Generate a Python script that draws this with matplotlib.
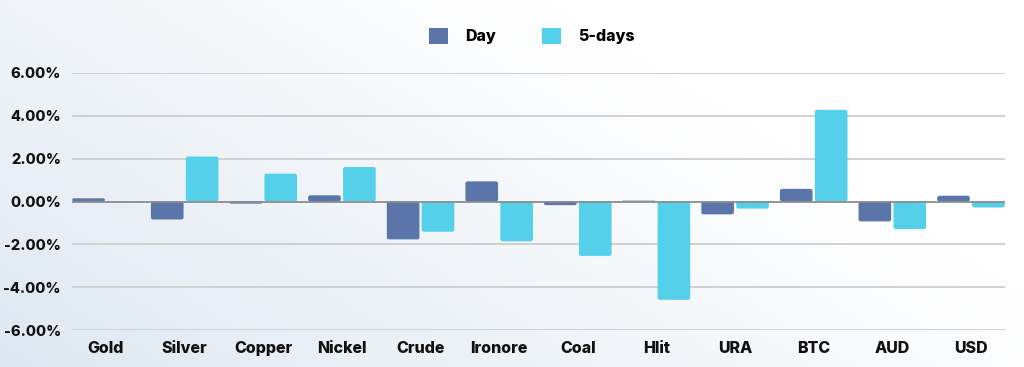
import matplotlib
matplotlib.use("Agg")
import matplotlib.pyplot as plt
import numpy as np
from matplotlib.patches import FancyBboxPatch, Patch

categories = ["Gold", "Silver", "Copper", "Nickel", "Crude", "Ironore",
              "Coal", "Hlit", "URA", "BTC", "AUD", "USD"]
day = [0.15, -0.84, -0.10, 0.29, -1.77, 0.94, -0.17, 0.04, -0.60, 0.59, -0.93, 0.27]
five_days = [0.0, 2.10, 1.30, 1.61, -1.41, -1.86, -2.54, -4.59, -0.33, 4.28, -1.29, -0.28]
yticks = [-6, -4, -2, 0, 2, 4, 6]
series_names = ["Day", "5-days"]

c_day = "#5A75AA"
c_5d = "#55D0EA"

plt.rcParams['font.family'] = ['Inter', 'DejaVu Sans']

fig = plt.figure(figsize=(10.24, 3.67), dpi=100)

# background gradient
bg = fig.add_axes([0, 0, 1, 1], zorder=-10)
xx, yy = np.meshgrid(np.linspace(0, 1, 256), np.linspace(0, 1, 128))
t = np.clip(0.6 * xx + 0.35 * yy, 0, 1)
t = np.clip(t * 1.5, 0, 1)
c0 = np.array([0.875, 0.91, 0.945])
c1 = np.array([1.0, 1.0, 1.0])
img = c0[None, None, :] * (1 - t[..., None]) + c1[None, None, :] * t[..., None]
bg.imshow(img, origin='lower', aspect='auto', extent=[0, 1, 0, 1])
bg.axis('off')

ax = fig.add_axes([72 / 1024, 1 - 330 / 367, (1005 - 72) / 1024, (330 - 73) / 367])
ax.patch.set_alpha(0)

x = np.arange(len(categories))
w = 0.415
off = 0.222

px_x = (len(categories) - 1 + 0.866) / 933.0
px_y = 12.0 / 257.0
aspect = px_y / px_x


def rbar(xc, val, color):
    if val == 0:
        return
    y0 = min(0, val)
    h = abs(val)
    r = 2.2 * px_x
    r = min(r, (h / aspect) / 2.0)
    p = FancyBboxPatch((xc - w / 2, y0), w, h,
                       boxstyle=f"round,pad=0,rounding_size={r}",
                       mutation_aspect=aspect,
                       facecolor=color, edgecolor='none', zorder=3)
    ax.add_patch(p)


for xi, d, f in zip(x, day, five_days):
    rbar(xi - off, d, c_day)
    rbar(xi + off, f, c_5d)

fs = 11.5
ax.set_xlim(-0.433, len(categories) - 1 + 0.433)
ax.set_ylim(-6, 6)
ax.set_yticks(yticks)
ax.set_yticklabels([f"{v:.2f}%" for v in yticks], fontsize=10.5, fontweight='heavy', color='#111111')
ax.set_xticks(x)
ax.set_xticklabels(categories, fontsize=fs, fontweight='heavy', color='#111111')
ax.tick_params(axis='both', length=0)
ax.tick_params(axis='y', pad=8)
ax.tick_params(axis='x', pad=8)
for s in ax.spines.values():
    s.set_visible(False)
for v in yticks:
    if v == 0:
        ax.axhline(v, color='#8c8c8c', lw=1.3, zorder=4)
    else:
        ax.axhline(v, color='#cdcdcd', lw=1.3, zorder=1)

handles = [Patch(facecolor=c_day, label=series_names[0]), Patch(facecolor=c_5d, label=series_names[1])]
fig.legend(handles=handles, loc='center', bbox_to_anchor=(532 / 1024, 1 - 36 / 367), ncol=2,
           frameon=False, prop={'weight': 'heavy', 'size': fs}, handlelength=1.15, handleheight=1.15,
           columnspacing=2.9, handletextpad=1.1)

fig.savefig("out.png", dpi=100)
